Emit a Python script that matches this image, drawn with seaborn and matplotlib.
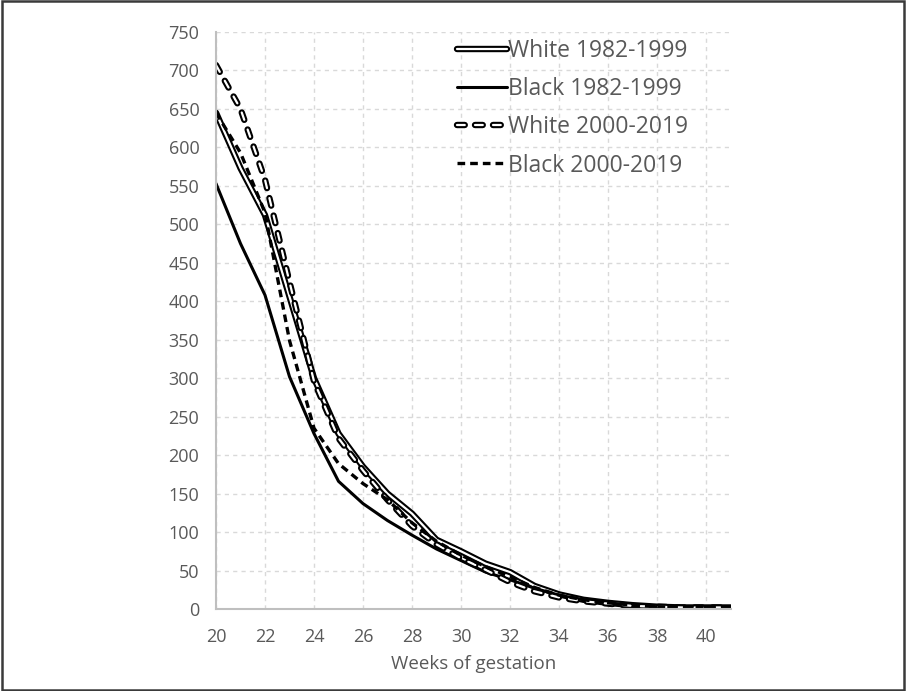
import matplotlib
matplotlib.use("Agg")
import matplotlib.pyplot as plt
import matplotlib.patheffects as pe
from matplotlib.patches import Rectangle
import seaborn as sns
import pandas as pd

# Rate by week of gestation, four race / period groups
weeks = list(range(20, 42))
white_1982_1999 = [645, 573, 512, 406, 300, 228, 185, 150, 124, 90, 75, 59, 48, 30, 19, 12, 8, 5, 3, 2, 2, 2]
black_1982_1999 = [553, 475, 408, 302, 228, 166, 137, 115, 96, 78, 63, 48, 38, 27, 18, 12, 8, 5, 3, 2, 2, 2]
white_2000_2019 = [707, 650, 558, 425, 296, 222, 180, 142, 108, 84, 66, 51, 35, 23, 15, 10, 7, 4, 3, 2, 2, 2]
black_2000_2019 = [645, 593, 515, 349, 235, 189, 163, 142, 112, 88, 70, 55, 42, 28, 18, 12, 8, 5, 3, 2, 2, 2]

series_names = ["White 1982-1999", "Black 1982-1999", "White 2000-2019", "Black 2000-2019"]
series_values = [white_1982_1999, black_1982_1999, white_2000_2019, black_2000_2019]

y_ticks = list(range(0, 751, 50))
x_ticks = list(range(20, 41, 2))

df = pd.concat(
    [pd.DataFrame({"week": weeks, "rate": v, "group": n}) for n, v in zip(series_names, series_values)],
    ignore_index=True,
)

sns.set_theme(style="white")
plt.rcParams["font.family"] = ["Open Sans", "DejaVu Sans"]
TEXT = "#595959"

fig = plt.figure(figsize=(9.06, 6.91), dpi=100)
ax = fig.add_axes([216 / 906, 1 - 609 / 691, (730.5 - 216) / 906, (609 - 32) / 691])

outline = [pe.Stroke(linewidth=4.6, foreground="black"), pe.Normal()]
styles = {
    "White 1982-1999": dict(color="white", linewidth=1.6, path_effects=outline),
    "Black 1982-1999": dict(color="black", linewidth=2.2),
    "White 2000-2019": dict(color="white", linewidth=1.6, path_effects=outline,
                            dashes=(3.5, 4.6), dash_capstyle="round"),
    "Black 2000-2019": dict(color="black", linewidth=2.4, dashes=(2.3, 1.5)),
}

for name in series_names:
    sub = df[df["group"] == name]
    sns.lineplot(data=sub, x="week", y="rate", ax=ax, label=name, **styles[name])

ax.set_xlim(20, 41)
ax.set_ylim(0, 750)
ax.set_xticks(x_ticks)
ax.set_yticks(y_ticks)
ax.grid(True, color="#d9d9d9", linestyle=(0, (3, 3)), linewidth=1.0)
ax.set_axisbelow(True)

for side in ("top", "right"):
    ax.spines[side].set_visible(False)
for side in ("left", "bottom"):
    ax.spines[side].set_color("#bfbfbf")
    ax.spines[side].set_linewidth(1.5)

ax.tick_params(axis="both", length=0, labelsize=13, labelcolor=TEXT)
ax.tick_params(axis="y", pad=12)
ax.tick_params(axis="x", pad=14)
ax.set_ylabel("")
ax.set_xlabel("Weeks of gestation", fontsize=13.5, color=TEXT, labelpad=6)

leg = ax.legend(
    loc="upper left", bbox_to_anchor=((450 - 216) / 514.5, 1.0),
    frameon=False, fontsize=16.5, handlelength=2.2, handletextpad=0.05,
    labelspacing=0.62, borderaxespad=0, borderpad=0.3,
)
for t in leg.get_texts():
    t.set_color(TEXT)

fig.patches.append(Rectangle((0.002, 0.002), 0.996, 0.996, transform=fig.transFigure,
                             fill=False, edgecolor="#3a3a3a", linewidth=1.8))

fig.savefig("out.png", dpi=100, facecolor="white")
